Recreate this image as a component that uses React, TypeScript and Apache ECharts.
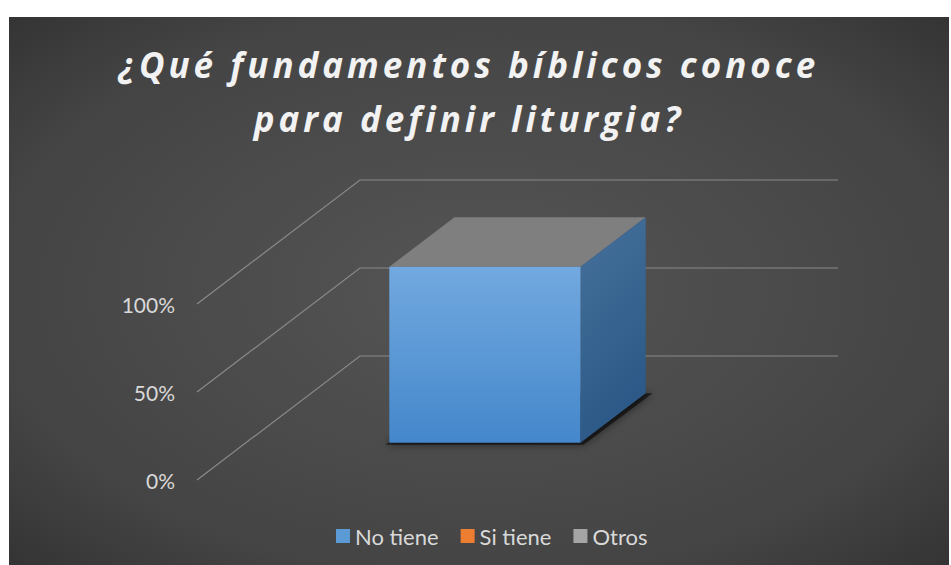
import React, { useEffect, useRef } from "react";
import * as echarts from "echarts";

const categories = ["Fundamentos bíblicos"];
const seriesNames = ["No tiene", "Si tiene", "Otros"];
const noTiene = [1];
const siTiene = [0];
const otros = [0];
const yTicks = [0, 0.5, 1];
const tickLabels = ["0%", "50%", "100%"];
const titleLines = ["¿Qué fundamentos bíblicos conoce", "para definir liturgia?"];

const DX = 163;
const DY = -124;
const FRONT = 0.3;
const BACK = 0.7;
const BAR_FRAC = 0.4;

function makeBar(name: string, values: number[], legendColor: string, front: [string, string], side: [string, string], topC: string) {
  return {
    type: "custom",
    name,
    data: values.map((v, i) => [i, v]),
    itemStyle: { color: legendColor },
    z: 5,
    renderItem: (params: any, api: any) => {
      const v = api.value(1);
      if (!v) return { type: "group", children: [] };
      const idx = api.value(0);
      const base = api.coord([idx, 0]);
      const top = api.coord([idx, v]);
      const bw = api.size([1, 0])[0] * BAR_FRAC;
      const xl = base[0] - bw / 2;
      const xr = base[0] + bw / 2;
      const fx = DX * FRONT, fy = DY * FRONT;
      const bx = DX * BACK, by = DY * BACK;
      const fl = xl + fx, fr = xr + fx;
      const fb = base[1] + fy, ft = top[1] + fy;
      const br = xr + bx, bl = xl + bx;
      const bb = base[1] + by, bt = top[1] + by;
      return {
        type: "group",
        children: [
          {
            type: "polygon",
            shape: { points: [[fl - 4, fb + 2], [fr + 3, fb + 2], [br + 7, bb], [bl + 4, bb]] },
            style: { fill: "rgba(0,0,0,0.55)", shadowBlur: 8, shadowColor: "rgba(0,0,0,0.9)" },
            silent: true,
          },
          {
            type: "polygon",
            shape: { points: [[fl, ft], [fr, ft], [br, bt], [bl, bt]] },
            style: { fill: topC },
          },
          {
            type: "polygon",
            shape: { points: [[fr, ft], [br, bt], [br, bb], [fr, fb]] },
            style: {
              fill: new echarts.graphic.LinearGradient(0, 0, 0.3, 1, [
                { offset: 0, color: side[0] },
                { offset: 1, color: side[1] },
              ]),
            },
          },
          {
            type: "rect",
            shape: { x: fl, y: ft, width: fr - fl, height: fb - ft },
            style: {
              fill: new echarts.graphic.LinearGradient(0, 0, 0, 1, [
                { offset: 0, color: front[0] },
                { offset: 1, color: front[1] },
              ]),
            },
          },
        ],
      };
    },
  };
}

export default function App() {
  const ref = useRef<HTMLDivElement>(null);
  useEffect(() => {
    if (!ref.current) return;
    const chart = echarts.init(ref.current, undefined, { renderer: "svg" });
    const W = 940, H = 548;
    chart.setOption({
      animation: false,
      graphic: [
        {
          type: "rect",
          z: -10,
          silent: true,
          shape: { x: 0, y: 0, width: W, height: H },
          style: {
            fill: new echarts.graphic.RadialGradient(0.5, 0.5, 0.95, [
              { offset: 0, color: "#555555" },
              { offset: 0.55, color: "#444444" },
              { offset: 1, color: "#1f1f1f" },
            ]),
          },
        },
        {
          type: "text",
          x: 460,
          y: 20,
          z: 10,
          silent: true,
          style: {
            text: titleLines.join("\n"),
            align: "center",
            textAlign: "center",
            verticalAlign: "top",
            textVerticalAlign: "top",
            fontFamily: "Open Sans",
            fontWeight: "bold",
            fontStyle: "italic",
            fontSize: 35,
            lineHeight: 54,
            fill: "#f2f2f2",
          },
        },
      ],
      legend: {
        data: seriesNames,
        bottom: 13,
        left: 322,
        icon: "rect",
        itemWidth: 14,
        itemHeight: 14,
        itemGap: 22,
        textStyle: { color: "#d9d9d9", fontSize: 22, fontFamily: "Lato" },
      },
      grid: { left: 188, top: 287, width: 478, height: 176 },
      xAxis: { type: "category", data: categories, show: false },
      yAxis: {
        type: "value",
        min: 0,
        max: 1,
        interval: 0.5,
        axisLine: { show: false },
        axisTick: { show: false },
        splitLine: { show: false },
        axisLabel: {
          margin: 22,
          color: "#d9d9d9",
          fontSize: 21,
          fontFamily: "Lato",
          formatter: (v: number) => tickLabels[yTicks.indexOf(v)] ?? "",
        },
      },
      series: [
        {
          type: "custom",
          name: "grid",
          silent: true,
          z: 1,
          data: yTicks.map((v) => [0, v]),
          renderItem: (params: any, api: any) => {
            const cs = params.coordSys;
            const y = api.coord([0, api.value(1)])[1];
            const x0 = cs.x;
            const x1 = cs.x + cs.width;
            return {
              type: "polyline",
              shape: { points: [[x0, y], [x0 + DX, y + DY], [x1 + DX, y + DY]] },
              style: { stroke: "#8a8a8a", lineWidth: 1.2, fill: null },
            };
          },
        },
        makeBar(seriesNames[0], noTiene, "#5b9bd5", ["#72a9e0", "#4487cb"], ["#46719c", "#2b5886"], "#7f7f7f"),
        makeBar(seriesNames[1], siTiene, "#ed7d31", ["#f29a5c", "#e06d1f"], ["#a8561f", "#8c4515"], "#7f7f7f"),
        makeBar(seriesNames[2], otros, "#a5a5a5", ["#b5b5b5", "#959595"], ["#707070", "#5a5a5a"], "#7f7f7f"),
      ],
    });
    ref.current.querySelectorAll("text").forEach((t) => {
      if (titleLines.includes((t.textContent || "").trim())) {
        t.setAttribute("letter-spacing", "4");
      }
    });
    return () => chart.dispose();
  }, []);
  return (
    <div
      ref={ref}
      style={{ position: "absolute", left: 9, top: 17, width: 940, height: 548 }}
    />
  );
}
